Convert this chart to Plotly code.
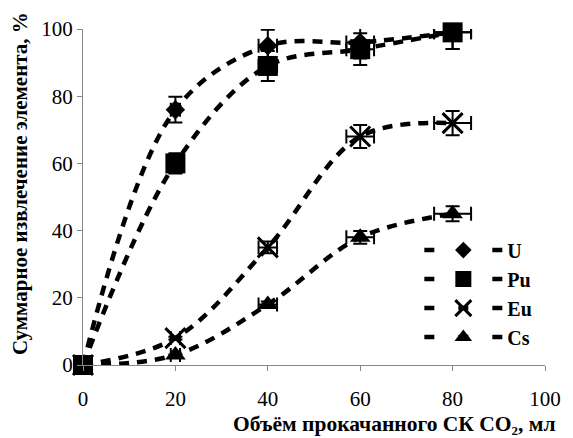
import plotly.graph_objects as go

# Pumped supercritical CO2 volume, ml
volume = [0, 20, 40, 60, 80]

# Cumulative extraction of each element, %
u_vals = [0, 76, 95, 96, 99]
pu_vals = [0, 60, 89, 94, 99]
eu_vals = [0, 8, 35, 68, 72]
cs_vals = [0, 3, 18, 38, 45]

series = [
    ("U", u_vals, "diamond", 15),
    ("Pu", pu_vals, "square", 20),
    ("Eu", eu_vals, "x-thin", 20),
    ("Cs", cs_vals, "triangle-up", 18),
]

x_ticks = [0, 20, 40, 60, 80, 100]
y_ticks = [0, 20, 40, 60, 80, 100]

FONT = "Liberation Serif, Times New Roman, serif"

fig = go.Figure()
for name, vals, sym, size in series:
    mline = dict(color="black", width=3 if sym == "x-thin" else 0)
    # data curve with 5 % error bars on both axes
    fig.add_trace(go.Scatter(
        x=volume, y=vals, name=name, mode="lines+markers", showlegend=False,
        line=dict(color="black", width=4.5, dash="10px,8px", shape="spline", smoothing=1.0),
        marker=dict(symbol=sym, size=size, color="black", line=mline),
        error_y=dict(type="percent", value=5, color="black", thickness=2, width=7),
        error_x=dict(type="percent", value=5, color="black", thickness=2, width=7),
        cliponaxis=False,
    ))
    # legend entry: short dash, marker, short dash
    fig.add_trace(go.Scatter(
        x=[None], y=[None], name=name, mode="lines+markers",
        line=dict(color="black", width=4.5, dash="10px,24px"),
        marker=dict(symbol=sym, size=size * 0.85, color="black", line=mline),
    ))

axis_common = dict(
    range=[0, 100], ticks="outside", ticklen=5,
    tickcolor="#868686", showline=True, linecolor="#868686", linewidth=1.3,
    showgrid=False, zeroline=False,
    tickfont=dict(family=FONT, size=21, color="black"),
)

fig.update_layout(
    width=573, height=438,
    margin=dict(l=83, r=20, t=29, b=73),
    paper_bgcolor="white", plot_bgcolor="white",
    font=dict(family=FONT, color="black", size=21),
    showlegend=True,
    legend=dict(
        x=0.728, y=0.40, xanchor="left", yanchor="top",
        font=dict(family=FONT, size=20, color="black", weight="bold"),
        itemwidth=78, tracegroupgap=0, bgcolor="rgba(0,0,0,0)",
    ),
    xaxis=dict(tickvals=x_ticks, ticklabelstandoff=10, **axis_common),
    yaxis=dict(tickvals=y_ticks, **axis_common),
    annotations=[
        dict(text="<b>Объём прокачанного СК CO₂, мл</b>", xref="paper", yref="paper",
             x=(399 - 83) / 470, y=(365 - 424) / 336, xanchor="center", yanchor="middle",
             borderpad=0, showarrow=False, font=dict(family=FONT, size=21.5, color="black")),
        dict(text="<b>Суммарное извлечение элемента, %</b>", xref="paper", yref="paper",
             x=(19 - 83) / 470, y=(365 - 184) / 336, xanchor="center", yanchor="middle",
             textangle=-90, showarrow=False, font=dict(family=FONT, size=21, color="black")),
    ],
)

fig.write_html("out.html")
